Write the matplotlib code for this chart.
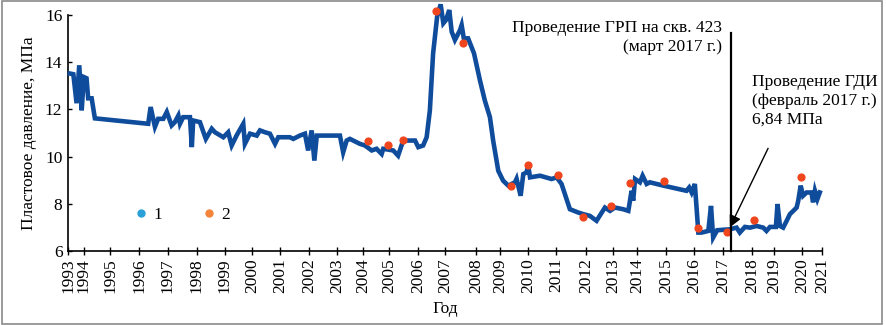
import matplotlib
matplotlib.use("Agg")
import matplotlib.pyplot as plt
from matplotlib.lines import Line2D
from matplotlib.patches import Rectangle

plt.rcParams['font.family'] = ['Liberation Serif', 'DejaVu Serif']
plt.rcParams['font.size'] = 12.5

# tick positions on the (uneven) time axis and their labels
tick_pos = [0, 0.59, 1.56, 2.64, 3.71, 4.79, 5.83, 6.83, 7.87, 8.95, 9.99, 10.95,
            11.92, 13.00, 14.00, 15.15, 16.04, 17.08, 18.12, 19.23, 20.24, 21.13,
            22.21, 23.25, 24.32, 25.40, 26.22, 27.26, 28.00]
tick_lab = [str(y) for y in range(1993, 2022)]

# series 1: reservoir pressure history (MPa)
t1 = [0.07, 0.20, 0.32, 0.42, 0.51, 0.59, 0.69, 0.75, 0.88, 1.00, 2.98, 3.07,
      3.23, 3.35, 3.54, 3.67, 3.85, 3.97, 4.10, 4.16, 4.28, 4.53, 4.60, 4.65,
      4.90, 5.12, 5.34, 5.46, 5.77, 5.95, 6.08, 6.26, 6.51, 6.57, 6.76, 7.01,
      7.13, 7.32, 7.50, 7.69, 7.81, 8.24, 8.37, 8.61, 8.80, 8.92, 9.05, 9.15,
      9.24, 10.10, 10.22, 10.35, 10.47, 10.84, 11.03, 11.28, 11.46, 11.65, 11.71,
      12.08, 12.26, 12.45, 12.89, 13.01, 13.19, 13.32, 13.44, 13.56, 13.71, 13.84,
      13.94, 14.04, 14.16, 14.25, 14.37, 14.56, 14.62, 14.70, 14.86, 15.08, 15.30,
      15.48, 15.67, 15.79, 15.98, 16.16, 16.35, 16.60, 16.66, 16.81, 16.91, 17.03,
      17.09, 17.16, 17.53, 17.96, 18.15, 18.33, 18.64, 18.95, 19.14, 19.38, 19.63,
      19.94, 20.13, 20.31, 20.62, 20.81, 20.93, 20.99, 21.06, 21.24, 21.34, 21.49,
      21.61, 22.11, 22.97, 23.07, 23.16, 23.28, 23.41, 23.53, 23.78, 23.88, 23.96,
      24.11, 24.58, 24.83, 24.95, 25.14, 25.33, 25.57, 25.82, 25.94, 26.07, 26.29,
      26.35, 26.44, 26.56, 26.69, 26.81, 27.06, 27.12, 27.21, 27.30, 27.43, 27.61,
      27.67, 27.74, 27.83, 27.92]
p1 = [13.52, 13.49, 12.26, 13.87, 11.96, 13.37, 13.32, 12.47, 12.47, 11.62, 11.39, 12.10,
      11.26, 11.60, 11.60, 11.89, 11.32, 11.46, 11.74, 11.39, 11.67, 11.67, 10.40, 11.53,
      11.46, 10.75, 11.18, 11.03, 10.82, 11.03, 10.47, 10.89, 11.39, 10.54, 10.97, 10.89,
      11.11, 11.03, 10.97, 10.54, 10.82, 10.82, 10.75, 10.89, 10.97, 10.26, 11.11, 9.83,
      10.89, 10.89, 10.18, 10.68, 10.75, 10.54, 10.47, 10.26, 10.33, 10.11, 10.33,
      10.26, 10.04, 10.68, 10.68, 10.40, 10.47, 10.82, 11.96, 14.37, 15.93, 16.45,
      15.65, 15.79, 16.21, 15.29, 14.94, 15.36, 15.57, 15.01, 15.01, 14.37, 13.23,
      12.38, 11.67, 10.68, 9.40, 8.98, 8.77, 8.91, 9.06, 8.34, 9.26, 9.33,
      9.62, 9.12, 9.19, 9.05, 9.12, 8.84, 7.77, 7.63, 7.56, 7.49, 7.28,
      7.84, 7.70, 7.84, 7.77, 7.70, 8.55, 8.13, 9.05, 8.91, 9.19, 8.84,
      8.91, 8.77, 8.55, 8.69, 8.48, 8.84, 6.78, 6.78, 6.85, 7.91, 6.57,
      6.88, 6.92, 6.99, 6.78, 7.02, 6.99, 7.06, 6.99, 6.85, 7.02, 7.02,
      7.99, 7.06, 6.99, 7.28, 7.56, 7.84, 8.13, 8.77, 8.34, 8.48, 8.48,
      8.06, 8.55, 8.20, 8.48]

# series 2: measured points
t2 = [11.15, 11.87, 12.45, 13.65, 14.66, 16.44, 17.09, 18.21, 19.14, 20.15,
      20.87, 22.13, 23.41, 24.48, 25.47, 27.21]
p2 = [10.65, 10.50, 10.72, 16.18, 14.80, 8.77, 9.66, 9.22, 7.45, 7.89,
      8.87, 8.95, 6.99, 6.82, 7.32, 9.15]

frac_t = 24.64      # ГРП, март 2017
gdi_t, gdi_p = 24.58, 7.0

fig = plt.figure(figsize=(8.86, 3.25), dpi=100)
ax = fig.add_axes([0.0767, 0.2277, 0.8510, 0.7262])

ax.plot(t1, p1, color='#0f4c9c', lw=3.3, solid_joinstyle='miter', clip_on=False, zorder=3)
ax.scatter(t2, p2, s=24, color='#f0461e', zorder=4, clip_on=False)

ax.plot([frac_t, frac_t], [6, 15.23], color='black', lw=1.6, clip_on=False, zorder=5)
ax.text(24.29, 15.8, 'Проведение ГРП на скв. 423\n(март 2017 г.)', ha='right', va='top',
        linespacing=1.3)
ax.text(25.40, 13.5, 'Проведение ГДИ\n(февраль 2017 г.)\n6,84 МПа', ha='left', va='top',
        linespacing=1.25)
ax.annotate('', xy=(gdi_t, gdi_p), xytext=(26.00, 10.35),
            arrowprops=dict(arrowstyle='-|>', color='black', lw=1, mutation_scale=18,
                            shrinkA=0, shrinkB=0), zorder=6)

ax.set_xlim(0, 28)
ax.set_ylim(6, 16)
ax.set_xticks(tick_pos)
ax.set_xticklabels(tick_lab, rotation=90)
ax.set_yticks([6, 8, 10, 12, 14, 16])
ax.tick_params(axis='y', direction='in', length=3, width=1, pad=4)
ax.tick_params(axis='x', direction='inout', length=6, width=1, pad=2)
for s in ['top', 'right']:
    ax.spines[s].set_visible(False)
for s in ['left', 'bottom']:
    ax.spines[s].set_linewidth(1.2)

ax.set_ylabel('Пластовое давление, МПа', labelpad=6)
ax.set_xlabel('Год', labelpad=6)

handles = [Line2D([], [], ls='', marker='o', ms=5, color='#2aa0d8'),
           Line2D([], [], ls='', marker='o', ms=5, color='#f4843a')]
ax.legend(handles, ['1', '2'], ncol=2, frameon=False, loc='center left',
          bbox_to_anchor=(0.065, 0.153), handletextpad=0.2, columnspacing=2.2,
          handlelength=1.0)

fig.patches.append(Rectangle((0.002, 0.003), 0.993, 0.994, transform=fig.transFigure,
                             fill=False, ec='#8a8a8a', lw=1.2))

fig.savefig('out.png', dpi=100)
